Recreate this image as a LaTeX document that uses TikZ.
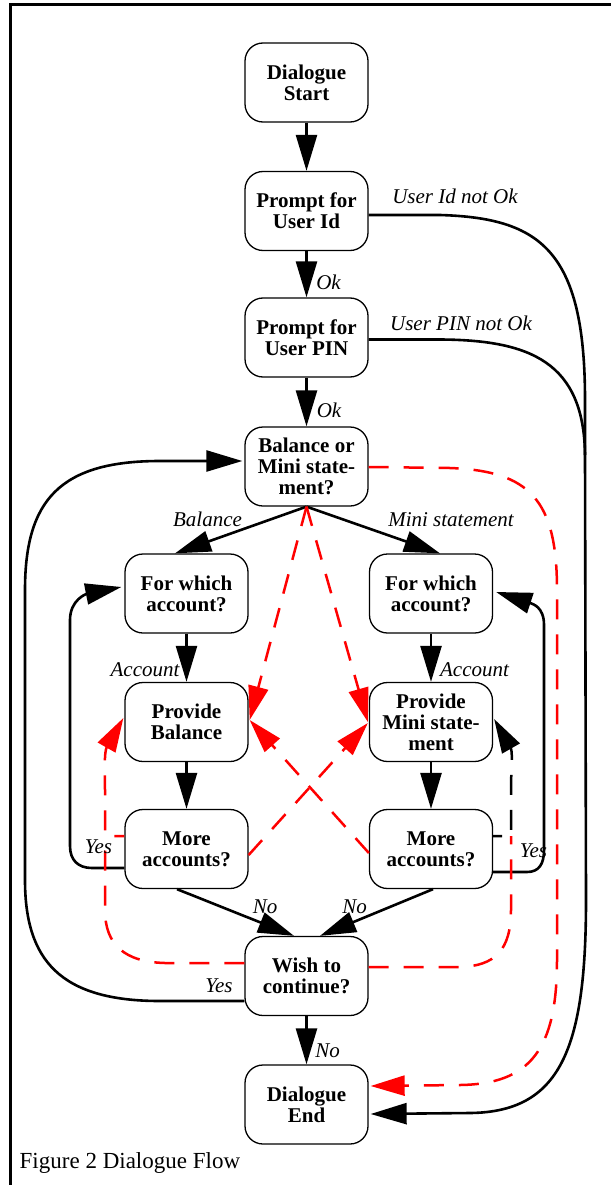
\documentclass[tikz,border=0pt]{standalone}
\usepackage{fontspec}
\setmainfont{Liberation Serif}
\usetikzlibrary{arrows.meta,calc}
\begin{document}
\begin{tikzpicture}[x=1pt,y=-1pt,
  box/.style={draw, line width=1.3pt, rounded corners=18pt, minimum width=123pt,
    minimum height=79pt, inner sep=0pt, align=center,
    font=\fontsize{21}{21}\selectfont\bfseries},
  flow/.style={line width=2.6pt, -{Triangle[length=36pt,width=21pt]}},
  plain/.style={line width=2.6pt},
  alt/.style={draw=red, line width=2.5pt, dash pattern=on 20pt off 15pt},
  altarrow/.style={alt, -{Triangle[length=34pt,width=20pt]}},
  lbl/.style={font=\fontsize{21}{21}\selectfont\itshape, inner sep=0pt, anchor=base},
]
\useasboundingbox (0,0) rectangle (611,1185);
% frame
\draw[line width=3pt] (10,1185) -- (10,5) -- (611,5);

% states
\node[box] (start) at (306.5,82.5) {Dialogue\\Start};
\node[box] (uid)   at (306.5,211)  {Prompt for\\User Id};
\node[box] (pin)   at (306.5,337.5) {Prompt for\\User PIN};
\node[box] (bal)   at (306.5,466.5) {Balance or\\Mini state-\\ment?};
\node[box] (fwl)   at (186.5,593.5) {For which\\account?};
\node[box] (fwr)   at (431,593.5)   {For which\\account?};
\node[box] (pbl)   at (186.5,722)   {Provide\\Balance};
\node[box] (pmr)   at (431,722)     {Provide\\Mini state-\\ment};
\node[box] (mal)   at (186.5,849)   {More\\accounts?};
\node[box] (mar)   at (431,849)     {More\\accounts?};
\node[box] (wish)  at (306.5,976)   {Wish to\\continue?};
\node[box] (end)   at (306.5,1104.5) {Dialogue\\End};

% main flow
\draw[flow] (start) -- (uid);
\draw[flow] (uid) -- (pin);
\draw[flow] (pin) -- (bal);
\draw[flow] (bal.south) -- ($(fwl.north)+(-11.5,0)$);
\draw[flow] (bal.south) -- ($(fwr.north)+(9,0)$);
\draw[flow] (fwl) -- (pbl);
\draw[flow] (fwr) -- (pmr);
\draw[flow] (pbl) -- (mal);
\draw[flow] (pmr) -- (mar);
\draw[flow] ($(mal.south)+(-9.5,0)$) -- ($(wish.north)+(-12.5,0)$);
\draw[flow] ($(mar.south)+(2,0)$) -- ($(wish.north)+(13.5,0)$);
\draw[flow] (wish) -- (end);

% "Yes" loops
\draw[flow] ($(mal.west)+(0,19)$) -- (92,868) .. controls (78,868) and (70,860) .. (70,846)
  -- (70,620) .. controls (70,600) and (86,594) .. ($(fwl.west)+(-3,-6.5)$);
\draw[flow] ($(mar.east)+(0,23)$) -- (527,872) .. controls (539,872) and (544,864) .. (544,850)
  -- (544,625) .. controls (544,607) and (533,604) .. ($(fwr.east)+(3,-1.5)$);
\draw[flow] ($(wish.west)+(0,25)$) -- (160,1001) .. controls (60,1001) and (25,960) .. (25,880)
  -- (25,590) .. controls (25,500) and (60,461) .. (160,461) -- ($(bal.west)+(-2,-5.5)$);

% rejected log-in
\coordinate (merge) at (585,455);
\draw[plain] ($(pin.east)+(0,2)$) -- (440,339.5) .. controls (530,340) and (584,362) .. (merge);
\draw[flow] ($(uid.east)+(0,4)$) -- (440,215) .. controls (540,218) and (585,250) .. (585,400)
  -- (merge) -- (586,900) .. controls (586,1050) and (560,1112) .. (470,1113)
  -- ($(end.east)+(2,9.5)$);

% alternative (dashed) transitions
\draw[altarrow] ($(bal.east)+(0,0.5)$) -- (450,468) .. controls (530,471) and (557,500) .. (557,590)
  -- (557,960) .. controls (557,1050) and (530,1084) .. (460,1085) -- ($(end.east)+(2,-18.5)$);
\draw[altarrow] (bal.south) -- ($(pbl.east)+(1,-2)$);
\draw[altarrow] (bal.south) -- ($(pmr.west)+(-1,0)$);
\draw[altarrow] ($(mal.east)+(0,6)$) -- ($(pmr.west)+(-1,1)$);
\draw[altarrow] ($(mar.west)+(0,4)$) -- ($(pbl.east)+(1,-2)$);
\draw[altarrow, dash phase=10pt] ($(mal.west)+(0,-13)$) -- (105,836) -- (105,790)
  .. controls (105,770) and (104,752) .. ($(pbl.west)+(-1,-4)$);
\draw[alt] ($(wish.west)+(0,-13)$) -- (165,963) .. controls (125,962) and (105,945) .. (105,910) -- (105,836);
\draw[alt] ($(wish.east)+(0,-9)$) -- (460,967) .. controls (495,966) and (511,950) .. (511,910) -- (511,836);
\draw[alt, draw=black, -{Triangle[length=34pt,width=20pt]}, dash phase=11pt]
  ($(mar.east)+(0,-13)$) -- (511,836) -- (511,790) .. controls (511,770) and (513,752) .. ($(pmr.east)+(1,-3)$);

% labels
\node[lbl] (okA) at (328.5,289) {Ok};
\node[lbl] (okB) at (329,417) {Ok};
\node[lbl] (uidno) at (455,204) {User Id not Ok};
\node[lbl] (pinno) at (461,330) {User PIN not Ok};
\node[lbl] (lbal) at (207.5,526) {Balance};
\node[lbl] (lmini) at (451,526) {Mini statement};
\node[lbl] (accl) at (145,676) {Account};
\node[lbl] (accr) at (474.5,676) {Account};
\node[lbl] (yesl) at (98.5,853) {Yes};
\node[lbl] (yesr) at (533.5,857) {Yes};
\node[lbl] (nol) at (265,913) {No};
\node[lbl] (nor) at (354.5,913) {No};
\node[lbl] (yesw) at (219,992) {Yes};
\node[lbl] (now) at (327.5,1057) {No};
\node[anchor=base west, inner sep=0pt, font=\fontsize{23}{23}\selectfont] (caption)
  at (19.5,1168) {Figure 2 Dialogue Flow};
\end{tikzpicture}
\end{document}
